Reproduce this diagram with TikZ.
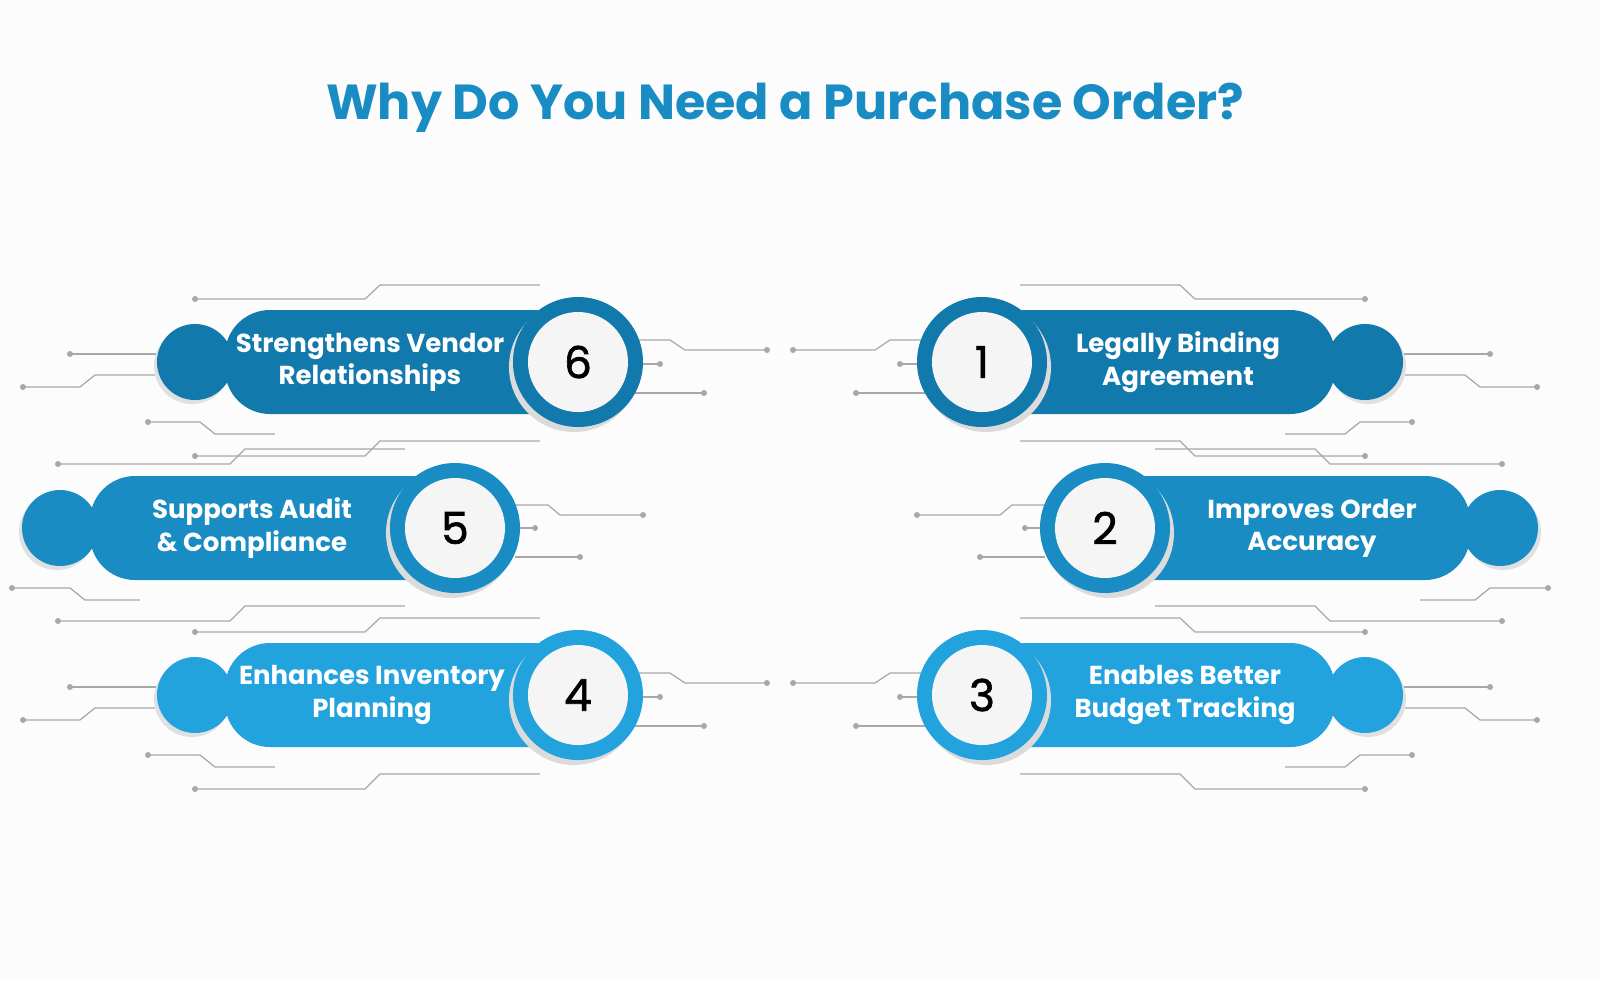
\documentclass[tikz,border=0pt]{standalone}
\usepackage{fontspec}
\setmainfont{Poppins}
\newfontfamily\numfont[FakeBold=1.5]{Poppins}
\definecolor{rowA}{HTML}{1279AC}
\definecolor{rowB}{HTML}{1A8CC4}
\definecolor{rowC}{HTML}{22A3DE}
\definecolor{titleblue}{HTML}{1A8CC4}
\definecolor{wireg}{HTML}{A8A8A8}
\tikzset{
  wire/.style={draw=wireg,line width=0.35pt},
  pilltext/.style={text=white,font=\bfseries\fontsize{7.4}{9.2}\selectfont,align=center},
  numtext/.style={font=\numfont\fontsize{12.5}{12.5}\selectfont}
}
% one row: y, circle x, knob x, colour, name
\newcommand\pbshape[5]{%
  \fill[black!12] (#3+3,#1+4) circle (38);
  \fill[#4] (#3,#1) circle (38);
  \fill[#4,rounded corners=4.5mm] (#2,#1-52) rectangle (#3-30,#1+52);
  \fill[black!14] (#2+4,#1+5) circle (65);
  \fill[#4] (#2,#1) circle (65);
  \fill[white!96!black] (#2,#1) circle (50);
  \coordinate (#5) at (#2,#1);
}
\newcommand\pbdot[1]{\fill[wireg] #1 circle (3);}
% wires round rows 1 and 3
\newcommand\pbwiresA[1]{%
  \draw[wire] (1020,#1-77)--(1180,#1-77)--(1195,#1-63)--(1365,#1-63); \pbdot{(1365,#1-63)}
  \draw[wire] (1400,#1-8)--(1490,#1-8); \pbdot{(1490,#1-8)}
  \draw[wire] (1405,#1+13)--(1465,#1+13)--(1480,#1+25)--(1537,#1+25); \pbdot{(1537,#1+25)}
  \draw[wire] (1285,#1+72)--(1345,#1+72)--(1360,#1+60)--(1412,#1+60); \pbdot{(1412,#1+60)}
  \draw[wire] (1020,#1+79)--(1180,#1+79)--(1195,#1+94)--(1365,#1+94); \pbdot{(1365,#1+94)}
  \draw[wire] (793,#1-12)--(875,#1-12)--(890,#1-22)--(925,#1-22); \pbdot{(793,#1-12)}
  \draw[wire] (900,#1+2)--(925,#1+2); \pbdot{(900,#1+2)}
  \draw[wire] (856,#1+31)--(925,#1+31); \pbdot{(856,#1+31)}
}
% wires round row 2
\newcommand\pbwiresB[1]{%
  \draw[wire] (1155,#1+78)--(1315,#1+78)--(1330,#1+93)--(1502,#1+93); \pbdot{(1502,#1+93)}
  \draw[wire] (1155,#1-79)--(1315,#1-79)--(1330,#1-64)--(1502,#1-64); \pbdot{(1502,#1-64)}
  \draw[wire] (917,#1-13)--(1000,#1-13)--(1012,#1-23)--(1045,#1-23); \pbdot{(917,#1-13)}
  \draw[wire] (1025,#1)--(1045,#1); \pbdot{(1025,#1)}
  \draw[wire] (980,#1+29)--(1045,#1+29); \pbdot{(980,#1+29)}
  \draw[wire] (1420,#1+72)--(1475,#1+72)--(1490,#1+60)--(1548,#1+60); \pbdot{(1548,#1+60)}
}
\begin{document}
\begin{tikzpicture}[x=0.1mm,y=-0.1mm]
\fill[white!99!black] (0,0) rectangle (1600,980);
\useasboundingbox (0,0) rectangle (1600,980);

\node[text=titleblue,font=\bfseries\fontsize{14}{16}\selectfont] (title) at (785,108) {Why Do You Need a Purchase Order?};

% right side
\pbwiresA{362}
\pbwiresB{528}
\pbwiresA{695}
\pbshape{362}{982}{1365}{rowA}{c1}
\pbshape{528}{1105}{1500}{rowB}{c2}
\pbshape{695}{982}{1365}{rowC}{c3}

% left side, mirrored
\begin{scope}[xshift=156mm,xscale=-1]
  \pbwiresA{362}
  \pbwiresB{528}
  \pbwiresA{695}
  \pbshape{362}{982}{1365}{rowA}{c6}
  \pbshape{528}{1105}{1500}{rowB}{c5}
  \pbshape{695}{982}{1365}{rowC}{c4}
\end{scope}

\node[numtext] (n1) at (c1) {1};
\node[numtext] (n2) at (c2) {2};
\node[numtext] (n3) at (c3) {3};
\node[numtext] (n4) at (c4) {4};
\node[numtext] (n5) at (c5) {5};
\node[numtext] (n6) at (c6) {6};

\node[pilltext] (t1) at (1178,362) {Legally Binding\\Agreement};
\node[pilltext] (t2) at (1312,528) {Improves Order\\Accuracy};
\node[pilltext] (t3) at (1185,695) {Enables Better\\Budget Tracking};
\node[pilltext] (t4) at (372,695) {Enhances Inventory\\Planning};
\node[pilltext] (t5) at (252,528) {Supports Audit\\\& Compliance};
\node[pilltext] (t6) at (370,362) {Strengthens Vendor\\Relationships};
\end{tikzpicture}
\end{document}
